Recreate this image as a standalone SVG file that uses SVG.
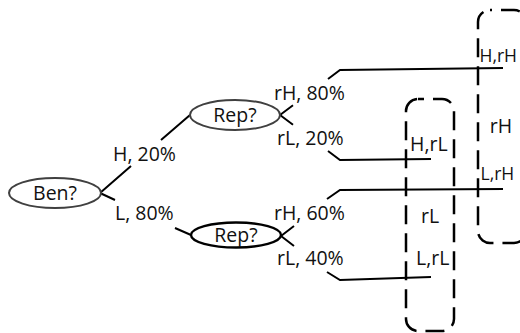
<svg xmlns="http://www.w3.org/2000/svg" width="520" height="333" viewBox="0 0 520 333">
  <style>
    text { font-family: "Open Sans", "Noto Sans", sans-serif; font-size: 19.5px; fill: #111; }
    .mid { text-anchor: middle; }
    .tight { font-size: 17.5px; }
    .node { fill: #fff; stroke: #404040; stroke-width: 2; }
    .node.dark { stroke: #000; stroke-width: 2.4; }
    .edge { fill: none; stroke: #000; stroke-width: 2; stroke-linecap: butt; }
    .group { fill: none; stroke: #000; stroke-width: 2.5; stroke-dasharray: 19 9; }
  </style>

  <!-- outcome groupings (dashed rounded boxes) -->
  <g id="group-rL">
    <rect class="group" x="406" y="99" width="48" height="232" rx="12" stroke-dashoffset="13"/>
    <text class="mid" x="430" y="223">rL</text>
  </g>
  <g id="group-rH">
    <rect class="group" x="478" y="10" width="48" height="233" rx="12" stroke-dashoffset="17"/>
    <text class="mid" x="501" y="133">rH</text>
  </g>

  <!-- branches -->
  <g id="connectors">
    <!-- Ben? -> Rep? (H) -->
    <path class="edge" d="M100,193 L131,166 M161,140 L190,115"/>
    <!-- Ben? -> Rep? (L) -->
    <path class="edge" d="M100,193 L115,200 M175,228 L191,235"/>
    <!-- upper Rep? branches -->
    <path class="edge" d="M280,115 L293,105.3 M328,79 L340,70 L503,68"/>
    <path class="edge" d="M280,115 L293,124.7 M328,151 L340,160 L431,159"/>
    <!-- lower Rep? branches -->
    <path class="edge" d="M281,236 L294,226 M327,199 L340,190 L503,189"/>
    <path class="edge" d="M281,236 L294,246 M327,272 L340,280 L431,277"/>
  </g>

  <!-- decision nodes -->
  <g id="node-ben">
    <ellipse class="node" cx="55" cy="193" rx="46" ry="15"/>
    <text class="mid" x="55" y="200">Ben?</text>
  </g>
  <g id="node-rep-high">
    <ellipse class="node" cx="235" cy="115" rx="45" ry="15"/>
    <text class="mid" x="235" y="122">Rep?</text>
  </g>
  <g id="node-rep-low">
    <ellipse class="node dark" cx="236" cy="235" rx="45" ry="12.5"/>
    <text class="mid" x="236" y="242">Rep?</text>
  </g>

  <!-- branch labels -->
  <g id="branch-labels">
    <text x="113" y="161">H, 20%</text>
    <text x="115" y="220">L, 80%</text>
    <text x="274" y="100">rH, 80%</text>
    <text x="277" y="145">rL, 20%</text>
    <text x="274" y="220">rH, 60%</text>
    <text x="277" y="265">rL, 40%</text>
  </g>

  <!-- outcome labels -->
  <g id="outcome-labels">
    <text class="tight" x="479.5" y="62">H,rH</text>
    <text x="410" y="151">H,rL</text>
    <text class="tight" x="480.5" y="180">L,rH</text>
    <text x="416" y="265">L,rL</text>
  </g>
</svg>
